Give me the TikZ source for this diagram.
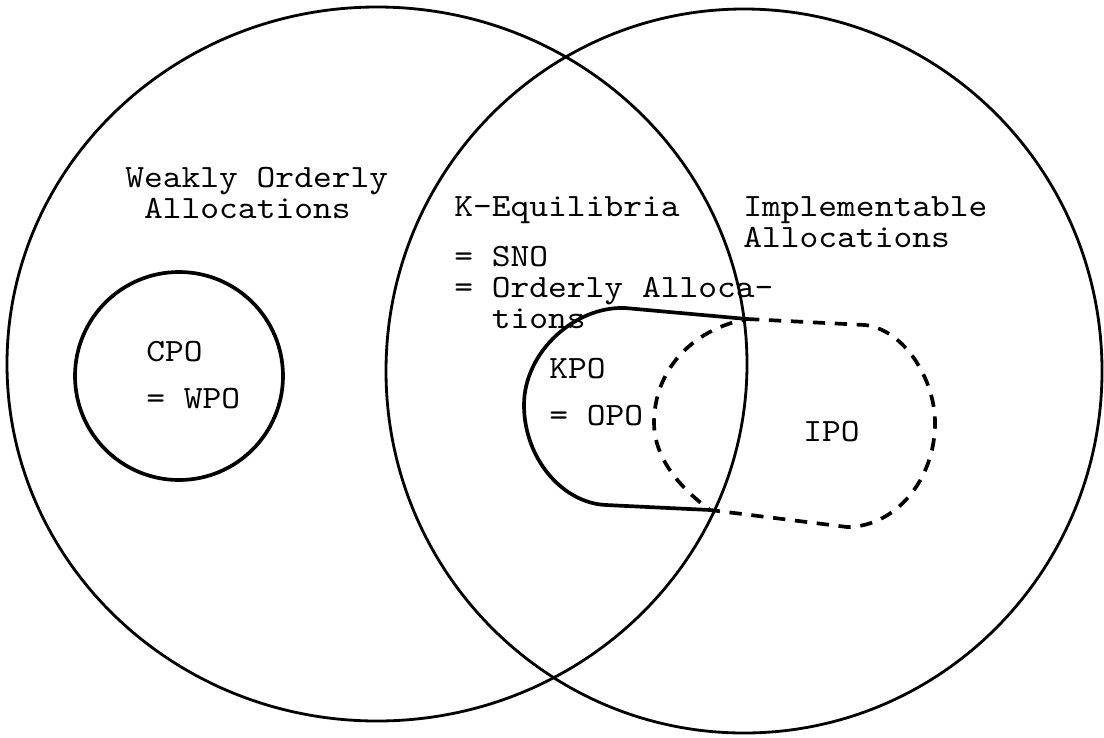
\documentclass[tikz,border=0pt]{standalone}
\usepackage{fontspec}
\setmonofont[FakeStretch=1.1]{lmmono10-regular.otf}

\begin{document}
\begin{tikzpicture}[x=0.02cm, y=-0.02cm,
        lbl/.style={font=\ttfamily\fontsize{18.5}{17.6}\selectfont, align=left, anchor=north west, inner sep=0pt},
        setline/.style={line width=1.6pt},
        subline/.style={line width=2.1pt},
        ipoline/.style={line width=2.1pt, dash pattern=on 7pt off 5.5pt}]
        \useasboundingbox (0,0) rectangle (1104,737);
        % the two big sets
        \draw[setline] (377,364) ellipse [x radius=370, y radius=357];
        \draw[setline] (744,371) ellipse [x radius=358, y radius=362];
        % CPO
        \draw[subline] (179,376) circle [radius=104];
        % KPO, closed by the right ellipse
        \draw[subline] (747,319) -- (625,308) .. controls (575,306) and (524,352) .. (524,405)
                .. controls (524,458) and (562,503) .. (606,505) -- (710,510);
        % IPO
        \draw[ipoline] (747,319) -- (865,325) .. controls (905,330) and (935,380) .. (935,423)
                .. controls (935,480) and (895,527) .. (847,527) -- (710,510)
                .. controls (672,482) and (654,452) .. (654,423)
                .. controls (654,372) and (690,330) .. (747,319);
        \node[lbl] (wo) at (125,167) {Weakly Orderly\\\phantom{W}Allocations};
        \node[lbl] (keq) at (454,196) {K-Equilibria\\[11pt]= SNO\\= Orderly Alloca-\\\phantom{= }tions};
        \node[lbl] (impl) at (743,196) {Implementable\\Allocations};
        \node[lbl] (cpo) at (146,341) {CPO\\[9pt]= WPO};
        \node[lbl] (kpo) at (549,358) {KPO\\[9pt]= OPO};
        \node[lbl] (ipo) at (803,421) {IPO};
\end{tikzpicture}
\end{document}
